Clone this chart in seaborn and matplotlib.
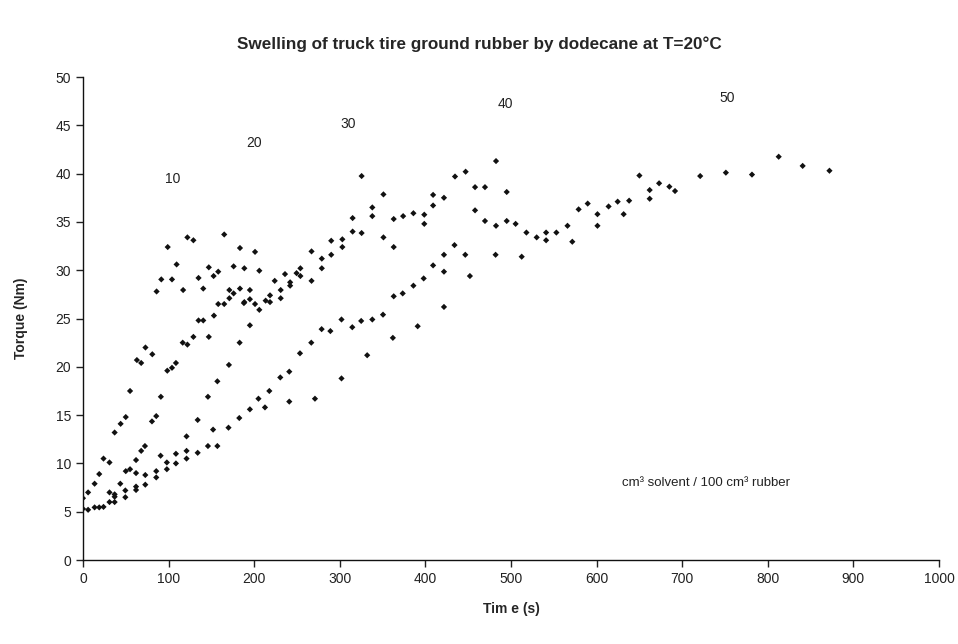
import matplotlib
matplotlib.use("Agg")
import matplotlib.pyplot as plt
import seaborn as sns
import pandas as pd

# ---- data (time in s, torque in Nm) ----
s10_t = [0, 6, 13.6, 19, 24, 31, 37, 44, 50, 55, 63, 68, 73, 81,
         86, 91.5, 99, 104, 109.4, 117, 122, 129, 135, 140.5, 147, 152.6, 158, 165,
         171, 171, 176, 176, 183.4, 183.4, 188.5, 188.5, 195, 195, 201, 201, 206, 206]
s10_y = [6.4, 7.0, 7.9, 8.9, 10.5, 10.1, 13.2, 14.1, 14.8, 17.5, 20.7, 20.4, 22.0, 21.3,
         27.8, 29.05, 32.4, 29.05, 30.6, 27.95, 33.4, 33.1, 29.2, 28.1, 30.3, 29.4, 29.85, 33.7,
         27.1, 27.95, 30.4, 27.6, 32.3, 28.1, 30.2, 26.7, 27.95, 27.0, 31.9, 26.5, 29.95, 25.9]

s20_t = [0, 6, 13.6, 19, 24, 31, 43.6, 50, 55, 62, 68, 72.4, 80.6, 85.6,
         91, 98.5, 104, 108.6, 116.5, 122, 129, 135, 140.5, 147, 153, 158, 165, 183, 195, 188,
         213.4, 218.5, 218.5, 224, 231, 231, 236, 242, 242, 249.5, 254, 254,
         267, 267, 279, 279, 290, 290, 303, 303, 315, 315]
s20_y = [5.3, 5.2, 5.45, 5.45, 5.5, 7.0, 7.9, 9.2, 9.4, 10.35, 11.3, 11.8, 14.35, 14.9,
         16.9, 19.6, 19.9, 20.4, 22.5, 22.3, 23.1, 24.8, 24.8, 23.1, 25.3, 26.5, 26.5, 22.5, 24.3, 26.6,
         26.85, 26.7, 27.4, 28.9, 27.95, 27.1, 29.6, 28.75, 28.4, 29.7, 30.2, 29.4,
         31.95, 28.9, 31.2, 30.2, 33.05, 31.6, 33.2, 32.4, 35.4, 34.0]

s30_t = [31, 37, 37, 37, 49.5, 49.5, 62, 62, 62, 72.8, 72.8, 85.6, 85.6, 90.7,
         98, 98, 108.6, 108.6, 121, 121, 121, 134, 134, 146, 157, 170.5, 205,
         217.7, 230.5, 241, 253.5, 266.7, 278.8, 289, 302, 314.6,
         325.5, 325.5, 338, 338, 351, 351, 363, 363, 374, 386, 398.7, 398.7,
         409, 409, 421.7, 434.6, 447, 458, 469.6, 482.5, 495]
s30_y = [6.0, 6.0, 6.55, 6.8, 7.2, 6.5, 9.0, 7.6, 7.25, 8.8, 7.8, 9.2, 8.55, 10.8,
         10.1, 9.4, 11.0, 10.0, 12.8, 11.3, 10.5, 14.5, 11.1, 16.9, 18.5, 20.2, 16.7,
         17.5, 18.9, 19.5, 21.4, 22.5, 23.9, 23.7, 24.9, 24.1,
         39.75, 33.85, 36.5, 35.6, 37.85, 33.4, 35.3, 32.4, 35.6, 35.9, 35.75, 34.8,
         37.8, 36.7, 37.5, 39.7, 40.2, 38.6, 38.6, 41.3, 38.1]

s40_t = [146, 152, 157, 170, 182.6, 195, 212.6, 241, 271, 302,
         325, 332, 338, 350.5, 362, 363, 373.5, 386, 391, 398, 409,
         421.7, 421.7, 421.7, 434, 446.6, 452, 482, 512.5,
         458, 469.6, 482.5, 495, 505.4, 518, 530, 541, 541, 553, 566, 571.6,
         579, 589.6, 601, 601]
s40_y = [11.8, 13.5, 11.8, 13.7, 14.7, 15.6, 15.8, 16.4, 16.7, 18.8,
         24.75, 21.2, 24.9, 25.4, 23.0, 27.3, 27.6, 28.4, 24.2, 29.15, 30.5,
         31.6, 29.85, 26.2, 32.6, 31.6, 29.4, 31.6, 31.4,
         36.2, 35.1, 34.6, 35.1, 34.8, 33.9, 33.4, 33.9, 33.1, 33.9, 34.6, 32.95,
         36.3, 36.9, 35.8, 34.6]

s50_t = [614, 624.6, 631.6, 638, 650, 662, 662, 673, 685, 691.6,
         721, 751, 781.5, 812.7, 840.7, 872]
s50_y = [36.6, 37.1, 35.8, 37.2, 39.8, 38.3, 37.4, 39.0, 38.65, 38.2,
         39.75, 40.1, 39.9, 41.75, 40.8, 40.3]

series_names = ["10", "20", "30", "40", "50"]
label_t = [105, 200, 310, 494, 752]
label_y = [39.4, 43.2, 45.1, 47.2, 47.8]

x_ticks = [0, 100, 200, 300, 400, 500, 600, 700, 800, 900, 1000]
y_ticks = [0, 5, 10, 15, 20, 25, 30, 35, 40, 45, 50]

# ---- table ----
frames = []
for name, t, y in zip(series_names,
                      [s10_t, s20_t, s30_t, s40_t, s50_t],
                      [s10_y, s20_y, s30_y, s40_y, s50_y]):
    frames.append(pd.DataFrame({"time": t, "torque": y, "series": name}))
df = pd.concat(frames, ignore_index=True)

sns.set_style("ticks")
plt.rcParams["font.family"] = ["Liberation Sans", "DejaVu Sans"]

fig = plt.figure(figsize=(9.58, 6.44), dpi=100)
ax = fig.add_axes([0.0866, 0.1304, 0.8936, 0.75])

sns.scatterplot(data=df, x="time", y="torque", hue="series",
                palette=["#111111"] * 5, marker="D", s=10, linewidth=0,
                legend=False, ax=ax)

for name, tx, ty in zip(series_names, label_t, label_y):
    ax.text(tx, ty, name, fontsize=10, color="#222222", ha="center", va="center")

ax.text(630, 8.0, "cm³ solvent / 100 cm³ rubber", fontsize=9.5, color="#222222",
        ha="left", va="center")

ax.set_xlim(0, 1000)
ax.set_ylim(0, 50)
ax.set_xticks(x_ticks)
ax.set_yticks(y_ticks)
ax.tick_params(axis="both", labelsize=10, colors="#222222", length=5, width=1, direction="out")
for sp in ["top", "right"]:
    ax.spines[sp].set_visible(False)
for sp in ["left", "bottom"]:
    ax.spines[sp].set_color("#111111")
    ax.spines[sp].set_linewidth(1)

ax.set_xlabel("Tim e (s)", fontsize=10, fontweight="bold", labelpad=12)
ax.set_ylabel("Torque (Nm)", fontsize=10, fontweight="bold", labelpad=20)
fig.suptitle("Swelling of truck tire ground rubber by dodecane at T=20°C",
             fontsize=12.3, fontweight="bold", x=0.5, y=0.932, va="center")

fig.savefig("out.png", dpi=100)
